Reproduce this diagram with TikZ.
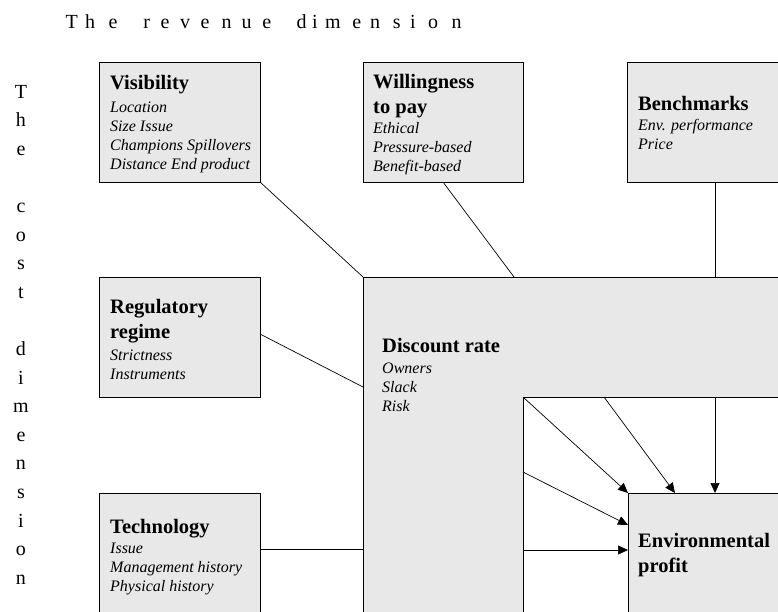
\documentclass[tikz,border=0pt]{standalone}
\usepackage{fontspec}
\setmainfont{Liberation Serif}
\usetikzlibrary{arrows.meta,shadows}

\definecolor{boxfill}{RGB}{232,232,232}
\definecolor{boxshade}{RGB}{80,80,80}

% multi-line text nodes are anchored at the baseline of their last line
\tikzset{
  panel/.style={draw=black, line width=0.8pt, fill=boxfill, anchor=north west,
    inner sep=0pt, outer sep=0pt,
    drop shadow={shadow xshift=1.4pt, shadow yshift=-1.4pt, fill=boxshade, opacity=1}},
  heading/.style={anchor=base west, inner sep=0pt, align=left,
    font=\fontsize{20.5}{25}\selectfont\bfseries},
  items/.style={anchor=base west, inner sep=0pt, align=left,
    font=\fontsize{16}{19}\selectfont\itshape},
  spaced/.style={anchor=base, inner sep=0pt, font=\fontsize{20}{24}\selectfont},
  link/.style={draw=black, line width=0.7pt},
  arrowlink/.style={link, -{Triangle[length=10pt,width=9pt]}}
}

\begin{document}
\begin{tikzpicture}[x=1pt,y=-1pt]
\useasboundingbox (0,0) rectangle (778,611);
\clip (0,0) rectangle (778,611);

% axis captions
\foreach \px/\ch [count=\k] in {71.7/T,90/h,113/e,146.7/r,165/e,185/v,205/e,226.7/n,
    246.7/u,266.7/e,301.7/d,315/i,333/m,356.7/e,375/n,396.7/s,413/i,433/o,456.7/n}
  \node[spaced] (rev\k) at (\px,28) {\ch};
\foreach \ch [count=\k from 0] in {T,h,e,{},c,o,s,t,{},d,i,m,e,n,s,i,o,n}
  \node[spaced] (cost\k) at (21,98+28.6*\k) {\ch};

% central discount-rate block (L-shaped)
\coordinate (dtl) at (363,277);
\coordinate (dic) at (523,397);
\draw[line width=0.8pt, fill=boxfill]
  (363,630) -- (dtl) -- (800,277) -- (800,397) -- (dic) -- (523,630) -- cycle;
\node[heading] (disct) at (382,352) {Discount rate};
\node[items] (disci) at (382,411) {Owners\\Slack\\Risk};

% factor boxes
\node[panel, minimum width=161pt, minimum height=120pt] (vis) at (99,62) {};
\node[heading] (vist) at (110,89) {Visibility};
\node[items] (visi) at (110,169) {Location\\Size Issue\\Champions Spillovers\\Distance End product};

\node[panel, minimum width=160pt, minimum height=120pt] (wtp) at (363,62) {};
\node[heading] (wtpt) at (373,113) {Willingness\\to pay};
\node[items] (wtpi) at (373,171) {Ethical\\Pressure-based\\Benefit-based};

\node[panel, minimum width=175pt, minimum height=120pt] (bench) at (627,62) {};
\node[heading] (bencht) at (638,110) {Benchmarks};
\node[items] (benchi) at (638,149) {Env. performance\\Price};

\node[panel, minimum width=161pt, minimum height=120pt] (reg) at (99,277) {};
\node[heading] (regt) at (110,338) {Regulatory\\regime};
\node[items] (regi) at (110,379) {Strictness\\Instruments};

\node[panel, minimum width=161pt, minimum height=140pt] (tech) at (99,493) {};
\node[heading] (techt) at (110,533) {Technology};
\node[items] (techi) at (110,591) {Issue\\Management history\\Physical history};

\node[panel, minimum width=175pt, minimum height=140pt] (env) at (628,493) {};
\node[heading] (envt) at (638,572) {Environmental\\profit};

% attachment points
\coordinate (wtpfoot) at (443,182);
\coordinate (wtpin) at (514,277);
\coordinate (benchfoot) at (715,182);
\coordinate (benchin) at (715,277);
\coordinate (regside) at (260,334);
\coordinate (regin) at (363,387);
\coordinate (techside) at (260,549);
\coordinate (techin) at (363,549);

% influences on the discount rate
\draw[link] (vis.south east) -- (dtl);
\draw[link] (wtpfoot) -- (wtpin);
\draw[link] (benchfoot) -- (benchin);
\draw[link] (regside) -- (regin);
\draw[link] (techside) -- (techin);

% effects on environmental profit
\coordinate (o2) at (604,397);
\coordinate (o3) at (715,397);
\coordinate (o4) at (523,472);
\coordinate (o5) at (523,550);
\coordinate (t2) at (675,493);
\coordinate (t3) at (715,493);
\coordinate (t4) at (628,525);
\coordinate (t5) at (628,550);
\draw[arrowlink] (dic) -- (env.north west);
\draw[arrowlink] (o2) -- (t2);
\draw[arrowlink] (o3) -- (t3);
\draw[arrowlink] (o4) -- (t4);
\draw[arrowlink] (o5) -- (t5);
\end{tikzpicture}
\end{document}
